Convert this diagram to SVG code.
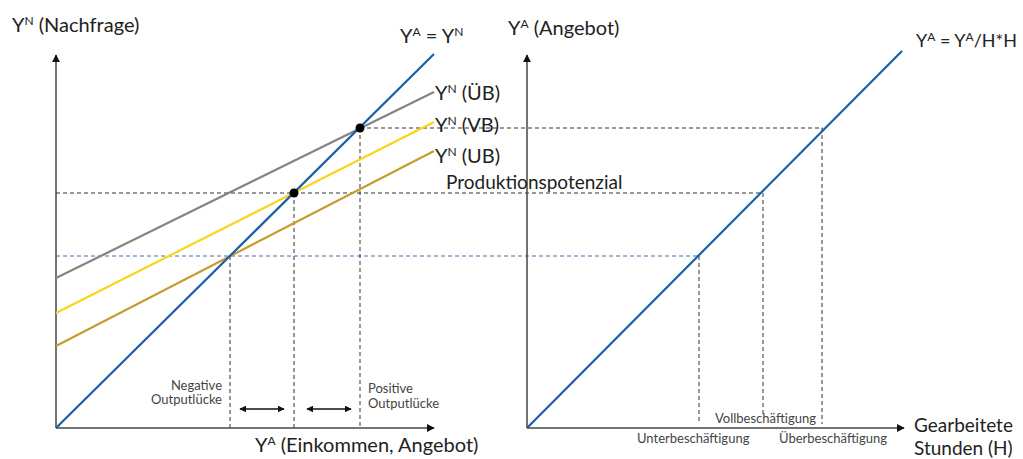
<svg xmlns="http://www.w3.org/2000/svg" width="1023" height="459" viewBox="0 0 1023 459">
<defs>
<marker id="ah" viewBox="0 0 10 10" refX="9" refY="5" markerWidth="7" markerHeight="7" markerUnits="userSpaceOnUse" orient="auto-start-reverse"><path d="M0,0 L10,5 L0,10 z" fill="#111"/></marker>
<marker id="ah2" viewBox="0 0 10 10" refX="9" refY="5" markerWidth="8" markerHeight="8" markerUnits="userSpaceOnUse" orient="auto-start-reverse"><path d="M0,0 L10,5 L0,10 z" fill="#111"/></marker>
</defs>
<style>
text{font-family:Lato,"Liberation Sans",sans-serif;fill:#222}
.big{font-size:20px}
.hl{font-size:19px}
.sm{font-size:13px;fill:#444}
.sup{font-size:12px}
.axis{stroke:#444;stroke-width:1.5;fill:none}
.dash{stroke:#333;stroke-width:1;stroke-dasharray:4,3;fill:none}
.bdash{stroke:#3a70b5;stroke-width:1;stroke-dasharray:4,3;fill:none}
.curve{stroke-width:2.2;fill:none}
</style>
<rect width="1023" height="459" fill="#fff"/>
<g id="connectors">
<line class="dash" x1="56" y1="193" x2="762" y2="193"/>
<line class="dash" x1="360" y1="128" x2="823" y2="128"/>
<line class="bdash" x1="56" y1="256" x2="698" y2="256"/>
<line class="dash" x1="230" y1="256" x2="230" y2="428"/>
<line class="dash" x1="294" y1="193" x2="294" y2="428"/>
<line class="dash" x1="360" y1="128" x2="360" y2="428"/>
<line class="dash" x1="699" y1="256" x2="699" y2="424"/>
<line class="dash" x1="763" y1="193" x2="763" y2="414"/>
<line class="dash" x1="822" y1="128" x2="822" y2="424"/>
<line stroke="#111" stroke-width="1.5" x1="240" y1="409" x2="284" y2="409" marker-start="url(#ah)" marker-end="url(#ah)"/>
<line stroke="#111" stroke-width="1.5" x1="307" y1="409" x2="351" y2="409" marker-start="url(#ah)" marker-end="url(#ah)"/>
</g>
<g id="left-axes">
<line class="axis" x1="56" y1="428" x2="56" y2="55" marker-end="url(#ah2)"/>
<line class="axis" x1="56" y1="428" x2="434" y2="428" marker-end="url(#ah2)"/>
</g>
<g id="curve-ub"><line class="curve" stroke="#c79c2e" x1="56" y1="346" x2="434" y2="151"/></g>
<g id="curve-vb"><line class="curve" stroke="#f7d61a" x1="56" y1="313" x2="434" y2="122"/></g>
<g id="curve-uebb"><line class="curve" stroke="#848484" x1="56" y1="278" x2="434" y2="92"/></g>
<g id="line-45"><line class="curve" stroke="#1a5ea8" x1="56" y1="428" x2="434" y2="54"/></g>
<g id="points">
<circle cx="360" cy="128" r="4.5" fill="#000"/>
<circle cx="294" cy="193" r="4.5" fill="#000"/>
</g>
<g id="right-axes">
<line class="axis" x1="527" y1="428" x2="527" y2="55" marker-end="url(#ah2)"/>
<line class="axis" x1="527" y1="428" x2="904" y2="428" marker-end="url(#ah2)"/>
</g>
<g id="supply-line"><line class="curve" stroke="#1a5ea8" x1="527" y1="428" x2="902" y2="51"/></g>
<g id="labels">
<text class="big" x="12" y="32">Y<tspan class="sup" dy="-7">N</tspan><tspan dy="7"> (Nachfrage)</tspan></text>
<text class="big" x="400" y="43">Y<tspan class="sup" dy="-7">A</tspan><tspan dy="7"> = Y</tspan><tspan class="sup" dy="-7">N</tspan></text>
<text class="big" x="435" y="100">Y<tspan class="sup" dy="-7">N</tspan><tspan dy="7"> (ÜB)</tspan></text>
<text class="big" x="435" y="132">Y<tspan class="sup" dy="-7">N</tspan><tspan dy="7"> (VB)</tspan></text>
<text class="big" x="435" y="163">Y<tspan class="sup" dy="-7">N</tspan><tspan dy="7"> (UB)</tspan></text>
<text x="446" y="189" style="font-size:19px">Produktionspotenzial</text>
<text class="big" x="508" y="35">Y<tspan class="sup" dy="-7">A</tspan><tspan dy="7"> (Angebot)</tspan></text>
<text x="916" y="47" style="font-size:18px">Y<tspan class="sup" dy="-6">A</tspan><tspan dy="6"> = Y</tspan><tspan class="sup" dy="-6">A</tspan><tspan dy="6">/H*H</tspan></text>
<text class="sm" x="222" y="390" text-anchor="end">Negative</text>
<text class="sm" x="222" y="404" text-anchor="end">Outputlücke</text>
<text class="sm" x="368" y="393">Positive</text>
<text class="sm" x="368" y="408">Outputlücke</text>
<text class="big" x="255" y="452">Y<tspan class="sup" dy="-7">A</tspan><tspan dy="7"> (Einkommen, Angebot)</tspan></text>
<text class="sm" x="715" y="423">Vollbeschäftigung</text>
<text class="sm" x="637" y="443">Unterbeschäftigung</text>
<text class="sm" x="779" y="443">Überbeschäftigung</text>
<text class="hl" x="914" y="432">Gearbeitete</text>
<text class="hl" x="914" y="455">Stunden (H)</text>
</g>
</svg>
